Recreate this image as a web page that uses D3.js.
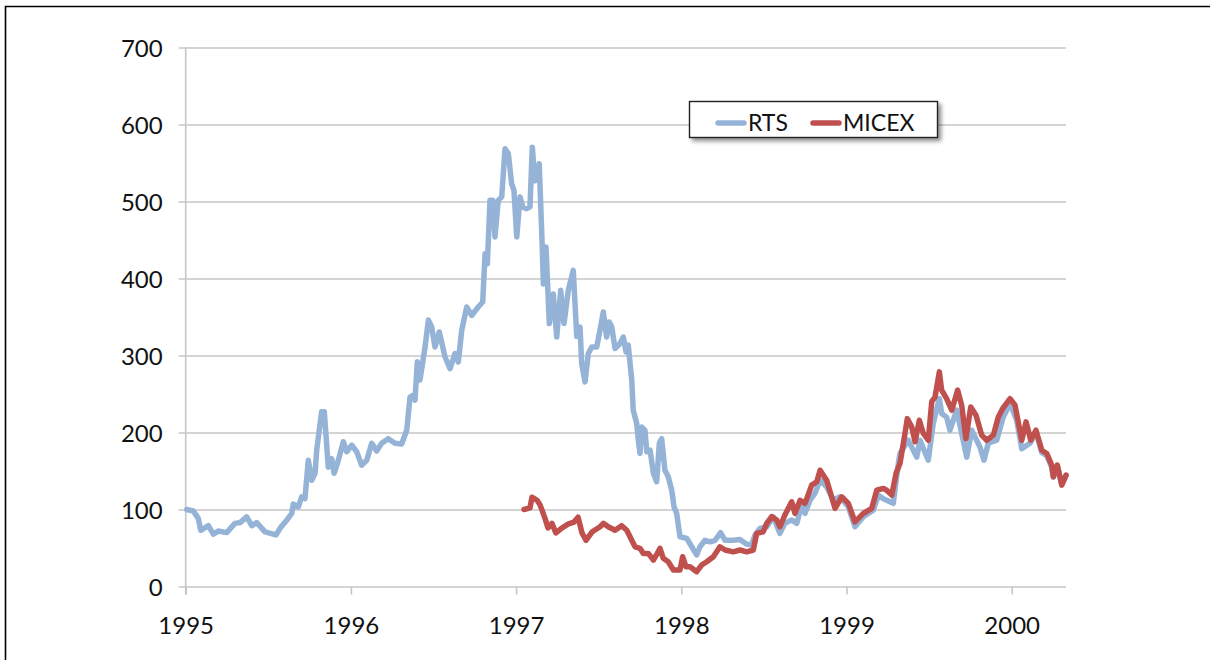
<!DOCTYPE html>
<html>
<head>
<meta charset="utf-8">
<script src="https://cdn.jsdelivr.net/npm/d3@7"></script>
<style>
  html, body { margin: 0; padding: 0; background: #fff; }
  svg { display: block; }
  text { font-family: Lato, "Noto Sans", sans-serif; fill: #111; }
</style>
</head>
<body>
<svg id="chart" width="1210" height="660"></svg>
<script>
// ---- data (decimal year, index value) ----
const seriesNames = ["RTS", "MICEX"];
const yTicks = [0, 100, 200, 300, 400, 500, 600, 700];
const xTicks = [1995, 1996, 1997, 1998, 1999, 2000];

const rtsYears = [1995.006,1995.046,1995.076,1995.091,1995.137,1995.167,1995.197,1995.248,1995.298,1995.329,1995.369,1995.400,1995.430,1995.480,1995.547,1995.571,1995.611,1995.642,1995.651,1995.682,1995.702,1995.722,1995.742,1995.763,1995.783,1995.793,1995.823,1995.839,1995.863,1995.884,1995.898,1995.924,1995.954,1995.975,1996.005,1996.035,1996.065,1996.096,1996.126,1996.156,1996.186,1996.226,1996.267,1996.307,1996.338,1996.358,1996.378,1996.388,1996.402,1996.418,1996.449,1996.469,1996.489,1996.509,1996.535,1996.570,1996.600,1996.630,1996.650,1996.671,1996.701,1996.731,1996.771,1996.798,1996.812,1996.826,1996.842,1996.858,1996.872,1996.892,1996.913,1996.933,1996.953,1996.973,1996.987,1997.004,1997.024,1997.040,1997.064,1997.084,1997.098,1997.114,1997.140,1997.159,1997.165,1997.181,1997.201,1997.225,1997.246,1997.270,1997.290,1997.316,1997.346,1997.367,1997.387,1997.397,1997.417,1997.437,1997.458,1997.488,1997.508,1997.528,1997.548,1997.564,1997.579,1997.599,1997.629,1997.649,1997.665,1997.679,1997.700,1997.709,1997.730,1997.740,1997.750,1997.760,1997.780,1997.791,1997.811,1997.831,1997.851,1997.867,1997.881,1997.901,1997.921,1997.942,1997.956,1997.972,1997.992,1998.033,1998.063,1998.093,1998.113,1998.143,1998.174,1998.204,1998.238,1998.265,1998.315,1998.355,1998.396,1998.426,1998.446,1998.476,1998.517,1998.557,1998.597,1998.627,1998.668,1998.699,1998.729,1998.749,1998.779,1998.809,1998.840,1998.880,1998.920,1998.960,1999.011,1999.051,1999.102,1999.162,1999.193,1999.223,1999.263,1999.283,1999.314,1999.324,1999.374,1999.425,1999.445,1999.495,1999.525,1999.562,1999.576,1999.606,1999.626,1999.667,1999.728,1999.758,1999.808,1999.832,1999.858,1999.909,1999.949,1999.990,2000.030,2000.061,2000.111,2000.147,2000.182,2000.212,2000.242,2000.252,2000.276,2000.303,2000.329];
const rtsValues = [100,98,88.5,73,79,68,72,70,82,83,90.5,79,83,71,67,75.5,86,95,107,103.5,116.5,114,164,138,147,177,227,227,155,166,147,164,188,175,183.6,175,157.6,164,186,176,186,192,186,185,203,246,248.5,242,292,268,311,346,337,311,330.6,298,283,302.6,291.7,333,363,352,363,369.5,432,419,501.5,501.5,454,501.5,506,568.6,562,523,514.5,454,506,493,490.7,493,570.6,527,549,436.6,393,441,341.5,380,324,384.7,341.5,384.7,410.6,325,337,289.6,265.7,302.6,311,311,333,356.6,324,343.6,337,309,315.6,324,304.7,313.4,268,229,211.7,190,172.8,207,203,175,177,147,136,186,192,151,142.5,125,103.5,95,64.6,62.5,51.6,41,51.6,60,58,60,70,60,60,61,55,54,66.8,75.5,77.6,90.6,69,82,86.3,82,105.7,95,112,121,138,129.5,112,116.5,103.5,77.6,90.6,99,118.7,114,110,108,160,173,190,168,190,164,211.7,244,224.7,220,203,229,168,203,181,164,186,190,220,237.7,216,179,186,200,174,170,155,142,157,133,144];

const micexYears = [1997.048,1997.084,1997.096,1997.127,1997.145,1997.175,1997.193,1997.217,1997.241,1997.278,1997.314,1997.350,1997.375,1997.399,1997.423,1997.459,1997.508,1997.528,1997.558,1997.599,1997.639,1997.670,1997.700,1997.720,1997.750,1997.770,1997.800,1997.831,1997.855,1997.871,1997.891,1997.921,1997.952,1997.992,1998.008,1998.028,1998.053,1998.093,1998.123,1998.154,1998.194,1998.234,1998.265,1998.315,1998.355,1998.396,1998.436,1998.456,1998.496,1998.517,1998.547,1998.578,1998.597,1998.627,1998.668,1998.688,1998.719,1998.749,1998.789,1998.820,1998.840,1998.880,1998.931,1998.971,1999.011,1999.051,1999.102,1999.153,1999.183,1999.223,1999.243,1999.274,1999.300,1999.324,1999.334,1999.354,1999.368,1999.395,1999.415,1999.441,1999.465,1999.495,1999.516,1999.536,1999.562,1999.576,1999.606,1999.637,1999.673,1999.697,1999.723,1999.752,1999.784,1999.818,1999.849,1999.889,1999.919,1999.945,1999.990,2000.020,2000.061,2000.087,2000.115,2000.147,2000.182,2000.212,2000.242,2000.252,2000.276,2000.303,2000.329];
const micexValues = [100,102,116,112,106,88.5,76,82,69.5,76,81,83.6,90,69.5,60,70.7,77.6,82,77.6,73,79,73,60,51.6,49.6,43,43,34.4,43,49.6,36.6,32.2,21.4,21.4,38.7,25.7,25.7,19.2,27.9,32.2,38.7,51.6,47.4,45,47.4,45,47.4,69,71,82,90.6,86.3,77.6,92.8,110,95,112,108,131.7,136,151,138,101.5,116.5,108,84,95,101.5,125,127.4,125,118.7,147,160,172.8,198.8,218,207,188,216,198.8,190,240,246,278.7,255,244,229,255,235.5,192,233,222.5,196.6,190,196.6,220,231,244,235.5,190,213.8,190,203,177,172.8,157.6,142.5,157.6,131.7,144.7];

// ---- layout ----
const svg = d3.select("#chart");
const pLeft = 185.7, pRight = 1066, pTop = 47.5, pBottom = 586.5;
const fontStack = "Lato, 'Noto Sans', sans-serif";

const x = d3.scaleLinear().domain([1995, 2000 + (pRight - 1011.7) / 165.2]).range([pLeft, pRight]);
const y = d3.scaleLinear().domain([0, 700]).range([pBottom, pTop]);

// outer frame
svg.append("path")
  .attr("d", "M5.5,700 L5.5,6.5 L1220,6.5")
  .attr("fill", "none").attr("stroke", "#000").attr("stroke-width", 1.6);

// defs: legend shadow
const defs = svg.append("defs");
const f = defs.append("filter").attr("id", "shadow").attr("x", "-10%").attr("y", "-30%").attr("width", "130%").attr("height", "180%");
f.append("feGaussianBlur").attr("in", "SourceAlpha").attr("stdDeviation", 2);
f.append("feOffset").attr("dx", 3).attr("dy", 3).attr("result", "ob");
f.append("feComponentTransfer").append("feFuncA").attr("type", "linear").attr("slope", 0.45);
const m = f.append("feMerge");
m.append("feMergeNode");
m.append("feMergeNode").attr("in", "SourceGraphic");

// gridlines + y axis
const yAxis = d3.axisLeft(y).tickValues(yTicks).tickSize(0).tickFormat(d3.format("d"));
const gy = svg.append("g").attr("transform", `translate(${pLeft - 7},0)`).call(yAxis);
gy.select(".domain").remove();
gy.selectAll(".tick line").attr("stroke", "#c6c6c6").attr("stroke-width", 1.6).attr("x1", 0).attr("x2", pRight - pLeft + 7);
gy.selectAll(".tick text").attr("x", -16).attr("dy", "0.36em").style("font-size", "24px").style("font-family", fontStack).attr("fill", "#111");

// x axis
const xAxis = d3.axisBottom(x).tickValues(xTicks).tickSize(8).tickPadding(22).tickFormat(d3.format("d"));
const gx = svg.append("g").attr("transform", `translate(0,${pBottom})`).call(xAxis);
gx.select(".domain").remove();
gx.selectAll(".tick line").attr("stroke", "#c6c6c6").attr("stroke-width", 1.6);
gx.selectAll(".tick text").style("font-size", "24px").style("font-family", fontStack).attr("fill", "#111");

// vertical axis line
svg.append("line").attr("x1", pLeft).attr("x2", pLeft).attr("y1", pTop).attr("y2", pBottom + 8)
  .attr("stroke", "#c6c6c6").attr("stroke-width", 1.6);

// lines
const colors = { RTS: "#95b3d7", MICEX: "#c0504d" };
const line = d3.line().x(d => x(d[0])).y(d => y(d[1]));
const rts = d3.zip(rtsYears, rtsValues);
const micex = d3.zip(micexYears, micexValues);
svg.append("path").datum(rts).attr("d", line).attr("fill", "none")
  .attr("stroke", colors.RTS).attr("stroke-width", 5.5).attr("stroke-linejoin", "round").attr("stroke-linecap", "round");
svg.append("path").datum(micex).attr("d", line).attr("fill", "none")
  .attr("stroke", colors.MICEX).attr("stroke-width", 5.5).attr("stroke-linejoin", "round").attr("stroke-linecap", "round");

// legend
const lg = svg.append("g");
lg.append("rect").attr("x", 689.5).attr("y", 101.5).attr("width", 248).attr("height", 36)
  .attr("fill", "#fff").attr("stroke", "#222").attr("stroke-width", 1.4).attr("filter", "url(#shadow)");
const items = [{ name: seriesNames[0], x0: 718 }, { name: seriesNames[1], x0: 813 }];
items.forEach(it => {
  lg.append("line").attr("x1", it.x0).attr("x2", it.x0 + 26).attr("y1", 123).attr("y2", 123)
    .attr("stroke", colors[it.name]).attr("stroke-width", 5.5).attr("stroke-linecap", "round");
  lg.append("text").attr("x", it.x0 + 30).attr("y", 131).style("font-size", "23px").style("font-family", fontStack).text(it.name);
});
</script>
</body>
</html>
